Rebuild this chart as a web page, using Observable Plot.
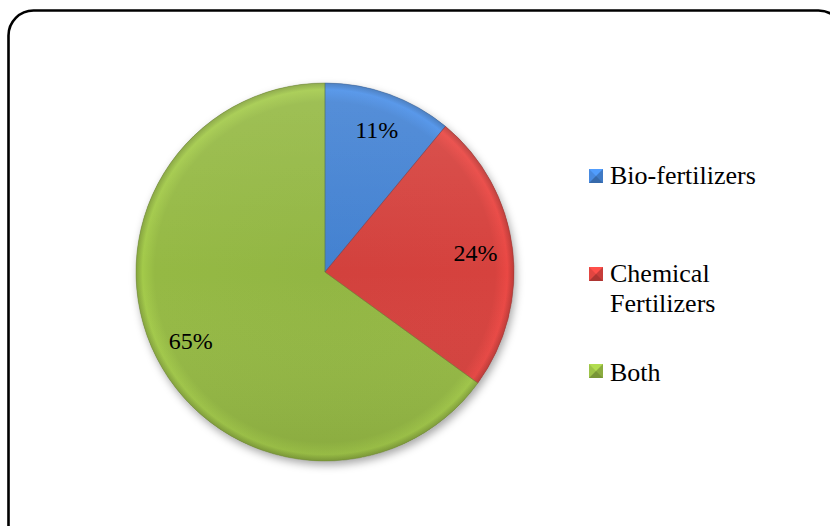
<!DOCTYPE html>
<html>
<head>
<meta charset="utf-8">
<script src="https://cdn.jsdelivr.net/npm/d3@7"></script>
<script src="https://cdn.jsdelivr.net/npm/@observablehq/plot@0.6"></script>
</head>
<body style="margin:0;background:#fff">
<div id="wrap" style="position:relative;width:830px;height:526px;overflow:hidden;background:#fff;font-family:'Liberation Serif', serif">
  <svg id="frame" width="830" height="526" style="position:absolute;left:0;top:0"><rect x="8.5" y="10.5" width="835" height="600" rx="25" ry="25" fill="none" stroke="#000" stroke-width="2.6"/></svg>
  <div id="chart" style="position:absolute;left:0;top:0"></div>
</div>
<script>
// ---- data ----
const categories = ["Bio-fertilizers", "Chemical Fertilizers", "Both"];
const values = [11, 24, 65];
const valueLabels = ["11%", "24%", "65%"];
const legendLines = [["Bio-fertilizers"], ["Chemical", "Fertilizers"], ["Both"]];
const colors = ["#4483d4", "#d6423e", "#95b944"];

const FONT = "'Liberation Serif', serif";

const table = categories.map((c, i) => ({ category: c, value: values[i], label: valueLabels[i], color: colors[i] }));
const arcs = d3.pie().sort(null).value(d => d.value)(table);
const labelRows = arcs.map(a => {
  const mid = (a.startAngle + a.endAngle) / 2;
  return { label: a.data.label, x: 0.8 * Math.sin(mid), y: 0.8 * Math.cos(mid) };
});

function pieMark(index, scales, vals, dimensions, context) {
  const cx = scales.x(0), cy = scales.y(0), r = scales.x(1) - scales.x(0);
  const g = d3.create("svg:g");
  const defs = g.append("defs");
  const f = defs.append("filter").attr("id", "shadow").attr("x", "-20%").attr("y", "-20%").attr("width", "140%").attr("height", "140%");
  f.append("feDropShadow").attr("dx", 2).attr("dy", 4).attr("stdDeviation", 4).attr("flood-color", "#000").attr("flood-opacity", 0.35);
  arcs.forEach((a, i) => {
    const base = d3.color(a.data.color);
    const rg = defs.append("radialGradient").attr("id", "rg" + i).attr("gradientUnits", "userSpaceOnUse")
      .attr("cx", 0).attr("cy", 0).attr("r", r);
    rg.append("stop").attr("offset", "0").attr("stop-color", base.darker(0.05).formatHex());
    rg.append("stop").attr("offset", "0.9").attr("stop-color", base.formatHex());
    rg.append("stop").attr("offset", "0.965").attr("stop-color", base.brighter(0.25).formatHex());
    rg.append("stop").attr("offset", "1").attr("stop-color", base.darker(0.35).formatHex());
  });
  const lg = defs.append("linearGradient").attr("id", "light").attr("x1", 0).attr("y1", 0).attr("x2", 0).attr("y2", 1);
  lg.append("stop").attr("offset", "0").attr("stop-color", "#fff").attr("stop-opacity", 0.1);
  lg.append("stop").attr("offset", "0.5").attr("stop-color", "#fff").attr("stop-opacity", 0);
  lg.append("stop").attr("offset", "1").attr("stop-color", "#000").attr("stop-opacity", 0.08);

  const arcGen = d3.arc().innerRadius(0).outerRadius(r);
  const pg = g.append("g").attr("transform", `translate(${cx},${cy})`);
  pg.append("circle").attr("r", r).attr("fill", "#888").attr("filter", "url(#shadow)");
  pg.selectAll("path.s").data(arcs).join("path")
    .attr("d", arcGen)
    .attr("fill", (d, i) => `url(#rg${i})`);
  pg.append("circle").attr("r", r).attr("fill", "url(#light)");
  pg.selectAll("path.e").data(arcs).join("path")
    .attr("d", arcGen)
    .attr("fill", "none")
    .attr("stroke", d => d3.color(d.data.color).darker(0.8).formatHex())
    .attr("stroke-opacity", 0.45)
    .attr("stroke-width", 1);
  return g.node();
}

const chart = Plot.plot({
  width: 830,
  height: 526,
  margin: 0,
  style: { background: "transparent", overflow: "visible", fontFamily: FONT },
  x: { domain: [-1, 1], range: [136, 514], axis: null },
  y: { domain: [-1, 1], range: [461, 83], axis: null },
  marks: [
    pieMark,
    Plot.text(labelRows, {
      x: "x", y: "y", text: "label",
      fontSize: 24, fontFamily: FONT,
      fill: "#000", textAnchor: "middle", lineAnchor: "middle"
    })
  ]
});
chart.querySelectorAll("text").forEach(t => t.style.fontFamily = FONT);
document.getElementById("chart").appendChild(chart);

// ---- legend ----
const wrap = document.getElementById("wrap");
const legendTops = [161, 259, 358];
const swatchTops = [169, 267, 364];
legendLines.forEach((lines, i) => {
  const c = d3.color(colors[i]);
  const sw = document.createElement("div");
  Object.assign(sw.style, {
    position: "absolute", left: "589px", top: swatchTops[i] + "px",
    width: "0px", height: "0px", borderStyle: "solid", borderWidth: "7px",
    borderTopColor: c.brighter(0.5).formatHex(),
    borderLeftColor: c.brighter(0.15).formatHex(),
    borderRightColor: c.darker(0.2).formatHex(),
    borderBottomColor: c.darker(0.6).formatHex()
  });
  wrap.appendChild(sw);
  const t = document.createElement("div");
  Object.assign(t.style, {
    position: "absolute", left: "610px", top: legendTops[i] + "px",
    fontFamily: FONT, fontSize: "26px", lineHeight: "30px", color: "#000", whiteSpace: "nowrap"
  });
  t.innerHTML = lines.join("<br>");
  wrap.appendChild(t);
});
</script>
</body>
</html>
